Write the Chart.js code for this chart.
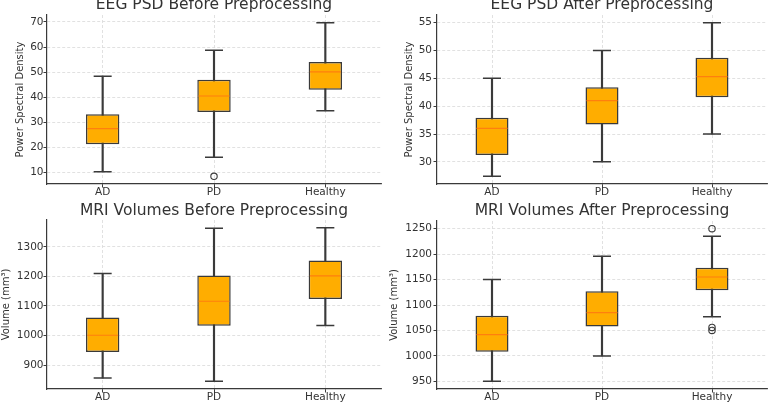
<!DOCTYPE html>
<html>
<head>
<meta charset="utf-8">
<script src="https://cdn.jsdelivr.net/npm/chart.js@4/dist/chart.umd.min.js"></script>
<style>
  html, body { margin: 0; padding: 0; background: #fff; }
  body { width: 772px; height: 403px; position: relative; overflow: hidden; }
  canvas { position: absolute; }
</style>
</head>
<body>
<canvas id="c1" width="386" height="200" style="left:0;top:0"></canvas>
<canvas id="c2" width="386" height="200" style="left:386px;top:0"></canvas>
<canvas id="c3" width="386" height="203" style="left:0;top:200px"></canvas>
<canvas id="c4" width="386" height="203" style="left:386px;top:200px"></canvas>
<script>
// ---- data ----
const categories = ['AD', 'PD', 'Healthy'];

const eegBeforeLow = [10.3, 16.1, 34.6];
const eegBeforeQ1 = [21.3, 34.1, 43.0];
const eegBeforeMedian = [27.5, 40.5, 50.1];
const eegBeforeQ3 = [33.2, 47.0, 54.0];
const eegBeforeHigh = [48.4, 58.7, 69.7];
const eegBeforeOutliers = [['PD', 8.5]];
const eegBeforeTicks = [10, 20, 30, 40, 50, 60, 70];

const eegAfterLow = [27.4, 30.0, 35.0];
const eegAfterQ1 = [31.25, 36.7, 41.6];
const eegAfterMedian = [36.0, 41.0, 45.3];
const eegAfterQ3 = [37.9, 43.4, 48.7];
const eegAfterHigh = [45.0, 50.0, 55.0];
const eegAfterOutliers = [];
const eegAfterTicks = [30, 35, 40, 45, 50, 55];

const mriBeforeLow = [856, 845, 1034];
const mriBeforeQ1 = [944, 1033, 1124];
const mriBeforeMedian = [1001, 1116, 1202];
const mriBeforeQ3 = [1061, 1203, 1254];
const mriBeforeHigh = [1210, 1363, 1365];
const mriBeforeOutliers = [];
const mriBeforeTicks = [900, 1000, 1100, 1200, 1300];

const mriAfterLow = [950, 1000, 1077];
const mriAfterQ1 = [1008, 1058, 1129];
const mriAfterMedian = [1042, 1085, 1155];
const mriAfterQ3 = [1079, 1127, 1173];
const mriAfterHigh = [1150, 1196, 1235];
const mriAfterOutliers = [['Healthy', 1250], ['Healthy', 1056], ['Healthy', 1050]];
const mriAfterTicks = [950, 1000, 1050, 1100, 1150, 1200, 1250];

// ---- styling ----
const TEXT = '#333333';
const EDGE = '#3a3a3a';
const BOX = '#FFAD00';
const MED = '#FF7F0E';
const GRID = '#d9d9d9';
const FONT = 'DejaVu Sans';

function makeChart(id, cfg) {
  const lows = cfg.low, highs = cfg.high;
  const caps = [];
  categories.forEach((c, i) => { caps.push({x: c, y: lows[i]}); caps.push({x: c, y: highs[i]}); });
  const allVals = lows.concat(highs, cfg.outliers.map(o => o[1]));
  const dmin = Math.min(...allVals), dmax = Math.max(...allVals);
  const marg = (dmax - dmin) * 0.05;

  new Chart(document.getElementById(id), {
    type: 'bar',
    data: {
      labels: categories,
      datasets: [
        { type: 'bar', data: categories.map((c, i) => [lows[i], highs[i]]),
          backgroundColor: EDGE, barThickness: 1.5, grouped: false, order: 4 },
        { type: 'bar', data: categories.map((c, i) => [cfg.q1[i], cfg.q3[i]]),
          backgroundColor: BOX, borderColor: EDGE, borderWidth: 1.5, borderSkipped: false,
          barPercentage: 0.3, categoryPercentage: 1, grouped: false, order: 3 },
        { type: 'line', data: caps, showLine: false, pointStyle: 'line', pointRadius: 9,
          pointHoverRadius: 9, borderColor: EDGE, pointBorderColor: EDGE, pointBorderWidth: 1.5, order: 2 },
        { type: 'line', data: categories.map((c, i) => ({x: c, y: cfg.median[i]})), showLine: false,
          pointStyle: 'line', pointRadius: 15.5, pointHoverRadius: 15.5,
          borderColor: MED, pointBorderColor: MED, pointBorderWidth: 1.2, order: 1 },
        { type: 'line', data: cfg.outliers.map(o => ({x: o[0], y: o[1]})), showLine: false,
          pointStyle: 'circle', pointRadius: 3.2, pointBackgroundColor: 'rgba(0,0,0,0)',
          pointBorderColor: EDGE, pointBorderWidth: 1.1, order: 0 }
      ]
    },
    options: {
      responsive: false,
      animation: false,
      devicePixelRatio: 1,
      events: [],
      layout: { autoPadding: false, padding: { left: 0, right: 5, top: cfg.padTop, bottom: 0 } },
      plugins: {
        legend: { display: false },
        tooltip: { enabled: false },
        title: { display: true, fullSize: false, text: cfg.title, color: TEXT,
          font: { family: FONT, size: 15.5, weight: 'normal', lineHeight: 0.7 },
          padding: { top: 0, bottom: cfg.titleGap } }
      },
      scales: {
        x: {
          type: 'category',
          offset: true,
          grid: { offset: false, color: GRID, lineWidth: 0.8, drawTicks: true, tickLength: 3.5,
            tickColor: EDGE, tickWidth: 1, tickBorderDash: [] },
          border: { color: EDGE, width: 1.2, dash: [3, 2] },
          ticks: { color: TEXT, font: { family: FONT, size: 10.5 }, padding: -1.5 },
          afterFit: s => { s.height = cfg.xH; s.paddingLeft = 0; s.paddingRight = 0; }
        },
        y: {
          type: 'linear',
          min: dmin - marg,
          max: dmax + marg,
          afterBuildTicks: s => { s.ticks = cfg.ticks.map(v => ({value: v})); },
          grid: { color: GRID, lineWidth: 0.8, drawTicks: true, tickLength: 3.5,
            tickColor: EDGE, tickWidth: 1, tickBorderDash: [] },
          border: { color: EDGE, width: 1.2, dash: [3, 2] },
          ticks: { color: TEXT, font: { family: FONT, size: 10.5 }, padding: cfg.yPad,
            callback: v => String(v) },
          title: { display: true, text: cfg.ylabel, color: TEXT,
            font: { family: FONT, size: 10 }, padding: { top: cfg.yTitlePad, bottom: 0 } },
          afterFit: s => { s.width = cfg.yW; }
        }
      }
    }
  });
}

makeChart('c1', { title: 'EEG PSD Before Preprocessing', ylabel: 'Power Spectral Density',
  low: eegBeforeLow, q1: eegBeforeQ1, median: eegBeforeMedian, q3: eegBeforeQ3, high: eegBeforeHigh,
  outliers: eegBeforeOutliers, ticks: eegBeforeTicks,
  padTop: 0, titleGap: 4.15, xH: 16, yW: 47, yPad: 0, yTitlePad: 14 });
makeChart('c2', { title: 'EEG PSD After Preprocessing', ylabel: 'Power Spectral Density',
  low: eegAfterLow, q1: eegAfterQ1, median: eegAfterMedian, q3: eegAfterQ3, high: eegAfterHigh,
  outliers: eegAfterOutliers, ticks: eegAfterTicks,
  padTop: 0, titleGap: 4.15, xH: 16, yW: 51, yPad: 1.5, yTitlePad: 17 });
makeChart('c3', { title: 'MRI Volumes Before Preprocessing', ylabel: 'Volume (mm³)',
  low: mriBeforeLow, q1: mriBeforeQ1, median: mriBeforeMedian, q3: mriBeforeQ3, high: mriBeforeHigh,
  outliers: mriBeforeOutliers, ticks: mriBeforeTicks,
  padTop: 6, titleGap: 3.15, xH: 14, yW: 47, yPad: 0, yTitlePad: 0 });
makeChart('c4', { title: 'MRI Volumes After Preprocessing', ylabel: 'Volume (mm³)',
  low: mriAfterLow, q1: mriAfterQ1, median: mriAfterMedian, q3: mriAfterQ3, high: mriAfterHigh,
  outliers: mriAfterOutliers, ticks: mriAfterTicks,
  padTop: 6, titleGap: 4.15, xH: 14, yW: 51, yPad: 1.5, yTitlePad: 2 });
</script>
</body>
</html>
